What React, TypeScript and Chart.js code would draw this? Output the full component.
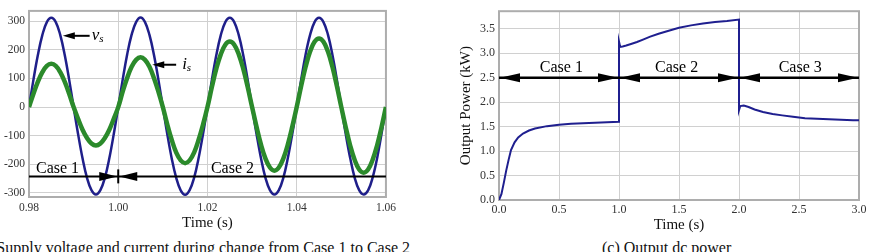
import React, { useEffect, useRef } from 'react';
import { Chart, registerables } from 'chart.js';

Chart.register(...registerables);

const FONT = '"Liberation Serif", "Times New Roman", serif';
Chart.defaults.font.family = FONT;

// ---------- (a) supply voltage / current ----------
const timeA = [
  0.98, 0.981, 0.982, 0.983, 0.984, 0.985, 0.986, 0.987, 0.988, 0.989,
  0.99, 0.991, 0.992, 0.993, 0.994, 0.995, 0.996, 0.997, 0.998, 0.999,
  1.0, 1.001, 1.002, 1.003, 1.004, 1.005, 1.006, 1.007, 1.008, 1.009,
  1.01, 1.011, 1.012, 1.013, 1.014, 1.015, 1.016, 1.017, 1.018, 1.019,
  1.02, 1.021, 1.022, 1.023, 1.024, 1.025, 1.026, 1.027, 1.028, 1.029,
  1.03, 1.031, 1.032, 1.033, 1.034, 1.035, 1.036, 1.037, 1.038, 1.039,
  1.04, 1.041, 1.042, 1.043, 1.044, 1.045, 1.046, 1.047, 1.048, 1.049,
  1.05, 1.051, 1.052, 1.053, 1.054, 1.055, 1.056, 1.057, 1.058, 1.059,
  1.06,
];

const vsValues = [
  0, 96, 183, 252, 297, 312, 297, 252, 183, 96,
  0, -94, -179, -247, -290, -305, -290, -247, -179, -94,
  0, 96, 184, 253, 297, 313, 297, 252, 183, 96,
  0, -95, -180, -247, -291, -306, -290, -247, -179, -94,
  0, 96, 183, 252, 297, 312, 297, 252, 183, 96,
  0, -94, -179, -247, -290, -305, -290, -247, -179, -94,
  0, 96, 184, 252, 297, 312, 297, 253, 183, 96,
  0, -95, -179, -247, -290, -305, -291, -247, -180, -94,
  0,
];

const isValues = [
  0, 47, 89, 122, 144, 151, 144, 122, 89, 47,
  0, -41, -79, -108, -127, -134, -127, -108, -79, -41,
  0, 54, 102, 141, 165, 174, 165, 141, 102, 54,
  0, -61, -115, -159, -186, -196, -186, -159, -115, -61,
  0, 71, 135, 185, 218, 229, 218, 185, 135, 71,
  0, -69, -131, -180, -211, -222, -211, -180, -131, -69,
  0, 74, 141, 194, 228, 240, 228, 194, 141, 74,
  0, -71, -135, -185, -218, -229, -218, -185, -135, -71,
  0,
];

const xTicksA = [0.98, 1.0, 1.02, 1.04, 1.06];
const xTickLabelsA = ['0.98', '1.00', '1.02', '1.04', '1.06'];
const yTicksA = [-300, -200, -100, 0, 100, 200, 300];
const yTickLabelsA = ['-300', '-200', '-100', '0', '100', '200', '300'];

// case annotation (data units)
const caseLineYA = -242;
const caseBoundsA = [0.98, 1.0, 1.06];
const caseLabelsA = ['Case 1', 'Case 2'];
const caseLabelXA = [0.98156, 1.02078];

// signal labels: arrow tip x, arrow end x, y, text
const sigLabels = [
  { tip: 0.98758, end: 0.99359, y: 249, main: 'v', sub: 's', gap: 2 },
  { tip: 1.00763, end: 1.01298, y: 148, main: 'i', sub: 's', gap: 6 },
];

// ---------- (c) output dc power ----------
const powerTime = [
  0, 0.02, 0.04, 0.06, 0.08, 0.1, 0.13, 0.16, 0.2, 0.25, 0.3, 0.4, 0.5, 0.6, 0.7, 0.8, 0.9, 1.0,
  1.0, 1.01, 1.03, 1.06, 1.1, 1.15, 1.2, 1.26, 1.33, 1.4, 1.5, 1.6, 1.7, 1.8, 1.9, 2.0,
  2.0, 2.01, 2.04, 2.08, 2.13, 2.2, 2.28, 2.36, 2.45, 2.55, 2.65, 2.75, 2.85, 2.95, 3.0,
];
const powerValue = [
  0.0, 0.12, 0.35, 0.6, 0.82, 1.02, 1.18, 1.28, 1.36, 1.42, 1.46, 1.51, 1.54, 1.56, 1.57, 1.58, 1.59, 1.6,
  3.24, 3.13, 3.14, 3.16, 3.19, 3.23, 3.28, 3.34, 3.4, 3.45, 3.52, 3.57, 3.61, 3.64, 3.66, 3.69,
  1.84, 1.92, 1.93, 1.9, 1.85, 1.8, 1.76, 1.73, 1.7, 1.67, 1.66, 1.65, 1.64, 1.63, 1.63,
];
const xTicksC = [0, 0.5, 1, 1.5, 2, 2.5, 3];
const xTickLabelsC = ['0.0', '0.5', '1.0', '1.5', '2.0', '2.5', '3.0'];
const yTicksC = [0, 0.5, 1, 1.5, 2, 2.5, 3, 3.5];
const yTickLabelsC = ['0.0', '0.5', '1.0', '1.5', '2.0', '2.5', '3.0', '3.5'];

const caseLineYC = 2.5;
const caseBoundsC = [0, 1, 2, 3];
const caseLabelsC = ['Case 1', 'Case 2', 'Case 3'];
const caseLabelXC = [0.52, 1.48, 2.51];

// ---------- helpers ----------
function head(ctx: CanvasRenderingContext2D, tx: number, ty: number, dir: number, len: number, half: number) {
  ctx.beginPath();
  ctx.moveTo(tx, ty);
  ctx.lineTo(tx - dir * len, ty - half);
  ctx.lineTo(tx - dir * len, ty + half);
  ctx.closePath();
  ctx.fill();
}

function drawFrame(chart: any) {
  const { ctx, chartArea: a } = chart;
  ctx.save();
  ctx.strokeStyle = '#adadad';
  ctx.lineWidth = 2;
  ctx.strokeRect(a.left, a.top, a.right - a.left, a.bottom - a.top);
  ctx.restore();
}

const leftOverlay = {
  id: 'leftOverlay',
  beforeDatasetsDraw(chart: any) {
    drawFrame(chart);
  },
  afterDatasetsDraw(chart: any) {
    const { ctx } = chart;
    const x = chart.scales.x;
    const y = chart.scales.y;
    ctx.save();
    ctx.strokeStyle = '#000';
    ctx.fillStyle = '#000';
    const ly = y.getPixelForValue(caseLineYA);
    const x0 = x.getPixelForValue(caseBoundsA[0]);
    const xb = x.getPixelForValue(caseBoundsA[1]);
    const x1 = x.getPixelForValue(caseBoundsA[2]);
    ctx.lineWidth = 2;
    ctx.beginPath();
    ctx.moveTo(x0, ly);
    ctx.lineTo(x1, ly);
    ctx.stroke();
    head(ctx, xb - 1, ly, 1, 18, 4.5);
    head(ctx, xb + 1, ly, -1, 18, 4.5);
    ctx.beginPath();
    ctx.moveTo(xb, ly - 7);
    ctx.lineTo(xb, ly + 7);
    ctx.stroke();
    ctx.font = `16px ${FONT}`;
    ctx.textBaseline = 'alphabetic';
    ctx.textAlign = 'left';
    caseLabelsA.forEach((t, i) => {
      ctx.fillText(t, x.getPixelForValue(caseLabelXA[i]), ly - 3);
    });
    sigLabels.forEach((s) => {
      const py = y.getPixelForValue(s.y);
      const tx = x.getPixelForValue(s.tip);
      const ex = x.getPixelForValue(s.end);
      ctx.lineWidth = 2;
      ctx.beginPath();
      ctx.moveTo(tx + 6, py);
      ctx.lineTo(ex, py);
      ctx.stroke();
      head(ctx, tx, py, -1, 12, 3.5);
      ctx.font = `italic 17px ${FONT}`;
      const mx = ex + s.gap;
      ctx.fillText(s.main, mx, py + 4);
      const w = ctx.measureText(s.main).width;
      ctx.font = `italic 11px ${FONT}`;
      ctx.fillText(s.sub, mx + w, py + 6);
    });
    ctx.restore();
  },
};

const rightOverlay = {
  id: 'rightOverlay',
  beforeDatasetsDraw(chart: any) {
    drawFrame(chart);
  },
  afterDatasetsDraw(chart: any) {
    const { ctx } = chart;
    const x = chart.scales.x;
    const y = chart.scales.y;
    ctx.save();
    ctx.strokeStyle = '#000';
    ctx.fillStyle = '#000';
    const ly = y.getPixelForValue(caseLineYC);
    ctx.lineWidth = 2.5;
    ctx.beginPath();
    ctx.moveTo(x.getPixelForValue(caseBoundsC[0]), ly);
    ctx.lineTo(x.getPixelForValue(caseBoundsC[caseBoundsC.length - 1]), ly);
    ctx.stroke();
    for (let i = 0; i < caseBoundsC.length - 1; i++) {
      const a = x.getPixelForValue(caseBoundsC[i]);
      const b = x.getPixelForValue(caseBoundsC[i + 1]);
      head(ctx, a + 1, ly, -1, 20, 4.5);
      head(ctx, b - 1, ly, 1, 20, 4.5);
    }
    ctx.font = `16px ${FONT}`;
    ctx.textAlign = 'center';
    ctx.textBaseline = 'alphabetic';
    caseLabelsC.forEach((t, i) => {
      ctx.fillText(t, x.getPixelForValue(caseLabelXC[i]), ly - 6);
    });
    ctx.restore();
  },
};

function tickSetter(values: number[]) {
  return (scale: any) => {
    scale.ticks = values.map((v) => ({ value: v }));
  };
}

function ChartA() {
  const ref = useRef<HTMLCanvasElement>(null);
  useEffect(() => {
    const chart = new Chart(ref.current as HTMLCanvasElement, {
      type: 'line',
      data: {
        datasets: [
          {
            data: timeA.map((t, i) => ({ x: t, y: isValues[i] })),
            borderColor: '#2b8a2b',
            borderWidth: 4.5,
            pointRadius: 0,
            tension: 0.4,
          },
          {
            data: timeA.map((t, i) => ({ x: t, y: vsValues[i] })),
            borderColor: '#1f1f8a',
            borderWidth: 2.5,
            pointRadius: 0,
            tension: 0.4,
          },
        ],
      },
      options: {
        responsive: false,
        animation: false,
        devicePixelRatio: 1,
        layout: { padding: { top: 7, right: 12, left: 0, bottom: 0 } },
        plugins: { legend: { display: false }, tooltip: { enabled: false } },
        scales: {
          x: {
            type: 'linear',
            min: 0.98,
            max: 1.06,
            afterBuildTicks: tickSetter(xTicksA),
            afterFit: (s: any) => { s.height = 38; },
            ticks: {
              callback: (_v: any, i: number) => xTickLabelsA[i],
              autoSkip: false,
              maxRotation: 0,
              padding: 4,
              color: '#333',
              font: { family: FONT, size: 11.5 },
            },
            grid: { color: '#d0d0d0', drawTicks: false },
            border: { display: false },
            title: {
              display: true,
              text: 'Time (s)',
              color: '#111',
              font: { family: FONT, size: 15 },
              padding: { top: 0, bottom: 3 },
            },
          },
          y: {
            type: 'linear',
            min: -314,
            max: 336,
            afterBuildTicks: tickSetter(yTicksA),
            afterFit: (s: any) => { s.width = 29; },
            ticks: {
              callback: (_v: any, i: number) => yTickLabelsA[i],
              autoSkip: false,
              padding: 4,
              color: '#333',
              font: { family: FONT, size: 11.5 },
            },
            grid: { color: '#d0d0d0', drawTicks: false },
            border: { display: false },
          },
        },
      } as any,
      plugins: [leftOverlay],
    });
    return () => chart.destroy();
  }, []);
  return (
    <canvas
      ref={ref}
      width={400}
      height={235}
      style={{ position: 'absolute', left: 0, top: 0, width: 400, height: 235 }}
    />
  );
}

function ChartC() {
  const ref = useRef<HTMLCanvasElement>(null);
  useEffect(() => {
    const chart = new Chart(ref.current as HTMLCanvasElement, {
      type: 'line',
      data: {
        datasets: [
          {
            data: powerTime.map((t, i) => ({ x: t, y: powerValue[i] })),
            borderColor: '#1f1f8f',
            borderWidth: 2,
            pointRadius: 0,
            tension: 0,
          },
        ],
      },
      options: {
        responsive: false,
        animation: false,
        devicePixelRatio: 1,
        layout: { padding: { top: 7, right: 12, left: 0, bottom: 0 } },
        plugins: { legend: { display: false }, tooltip: { enabled: false } },
        scales: {
          x: {
            type: 'linear',
            min: 0,
            max: 3,
            afterBuildTicks: tickSetter(xTicksC),
            afterFit: (s: any) => { s.height = 35; },
            ticks: {
              callback: (_v: any, i: number) => xTickLabelsC[i],
              autoSkip: false,
              maxRotation: 0,
              padding: 3,
              color: '#333',
              font: { family: FONT, size: 12 },
            },
            grid: { color: '#d0d0d0', drawTicks: false },
            border: { display: false },
            title: {
              display: true,
              text: 'Time (s)',
              color: '#111',
              font: { family: FONT, size: 15 },
              padding: { top: 0, bottom: 1 },
            },
          },
          y: {
            type: 'linear',
            min: 0,
            max: 3.86,
            afterBuildTicks: tickSetter(yTicksC),
            afterFit: (s: any) => { s.width = 59; },
            ticks: {
              callback: (_v: any, i: number) => yTickLabelsC[i],
              autoSkip: false,
              padding: 4,
              color: '#333',
              font: { family: FONT, size: 12 },
            },
            grid: { color: '#d0d0d0', drawTicks: false },
            border: { display: false },
            title: {
              display: true,
              text: 'Output Power (kW)',
              color: '#111',
              font: { family: FONT, size: 15 },
              padding: { top: 17, bottom: 0 },
            },
          },
        },
      } as any,
      plugins: [rightOverlay],
    });
    return () => chart.destroy();
  }, []);
  return (
    <canvas
      ref={ref}
      width={431}
      height={235}
      style={{ position: 'absolute', left: 440, top: 0, width: 431, height: 235 }}
    />
  );
}

export default function App() {
  const cap: React.CSSProperties = {
    position: 'absolute',
    top: 239,
    fontFamily: FONT,
    fontSize: 16,
    lineHeight: '17px',
    color: '#111',
    whiteSpace: 'nowrap',
  };
  return (
    <div
      style={{
        position: 'absolute',
        left: 0,
        top: 0,
        width: 871,
        height: 252,
        overflow: 'hidden',
        background: '#fff',
      }}
    >
      <ChartA />
      <ChartC />
      <div style={{ ...cap, right: 461, textAlign: 'right' }}>
        (a) Supply voltage and current during change from Case 1 to Case 2
      </div>
      <div style={{ ...cap, left: 602 }}>(c) Output dc power</div>
    </div>
  );
}
